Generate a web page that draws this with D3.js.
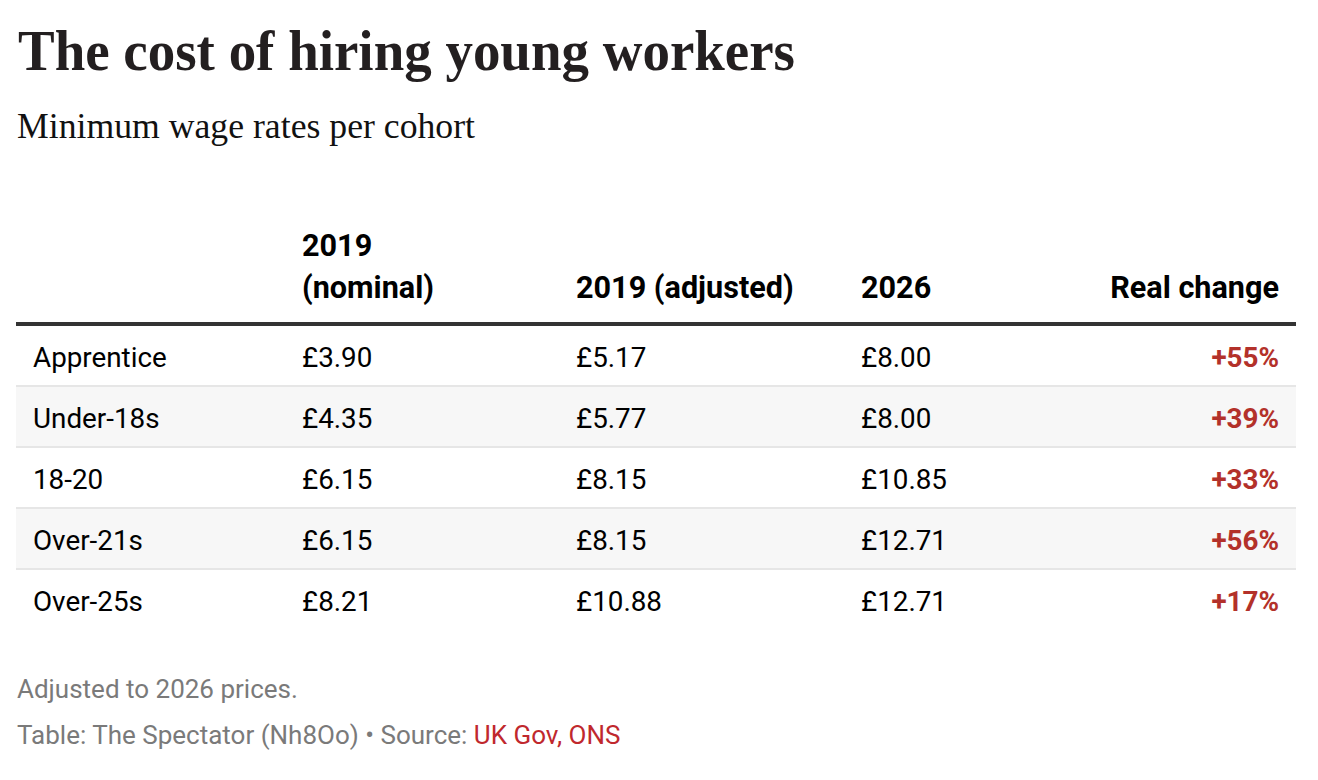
<!DOCTYPE html>
<html><head><meta charset="utf-8">
<script src="https://cdn.jsdelivr.net/npm/d3@7"></script>
<style>
html,body{margin:0;padding:0;background:#fff;}
svg{display:block;}
</style></head>
<body>
<svg id="chart" width="1318" height="780"></svg>
<script>
const title = "The cost of hiring young workers";
const subtitle = "Minimum wage rates per cohort";
const headers = [["", ""], ["2019", "(nominal)"], ["", "2019 (adjusted)"], ["", "2026"], ["", "Real change"]];
const cohorts = ["Apprentice", "Under-18s", "18-20", "Over-21s", "Over-25s"];
const nominal2019 = [3.90, 4.35, 6.15, 6.15, 8.21];
const adjusted2019 = [5.17, 5.77, 8.15, 8.15, 10.88];
const rate2026 = [8.00, 8.00, 10.85, 12.71, 12.71];
const realChange = [55, 39, 33, 56, 17];
const note = "Adjusted to 2026 prices.";
const credit = "Table: The Spectator (Nh8Oo) • Source: ";
const sourceText = "UK Gov, ONS";

const svg = d3.select("#chart");
const serif = "'Liberation Serif', 'DejaVu Serif', serif";
const sans = "Roboto, 'Noto Sans', sans-serif";
const left = 16, right = 1296;

svg.append("text").attr("x", 18).attr("y", 70)
  .attr("font-family", serif).attr("font-weight", 700).attr("font-size", 56)
  .attr("textLength", 777).attr("lengthAdjust", "spacingAndGlyphs")
  .attr("fill", "#231f20").text(title);
svg.append("text").attr("x", 17).attr("y", 138)
  .attr("font-family", serif).attr("font-size", 35)
  .attr("textLength", 458).attr("lengthAdjust", "spacingAndGlyphs")
  .attr("fill", "#111").text(subtitle);

const fmt = d3.format(".2f");
const rows = cohorts.map((c, i) => [c, "£" + fmt(nominal2019[i]), "£" + fmt(adjusted2019[i]), "£" + fmt(rate2026[i]), "+" + realChange[i] + "%"]);

const y = d3.scaleBand().domain(d3.range(rows.length)).range([326, 631]).paddingInner(0);
const colX = [33, 302, 576, 861, 1279];
const anchors = ["start", "start", "start", "start", "end"];

// header
const hg = svg.append("g");
headers.forEach((h, j) => {
  [0, 1].forEach(k => {
    if (!h[k]) return;
    hg.append("text").attr("x", colX[j]).attr("y", k === 0 ? 256 : 298)
      .attr("text-anchor", anchors[j]).attr("font-family", sans).attr("font-weight", 700)
      .attr("font-size", 30.6).attr("fill", "#000").text(h[k]);
  });
});
svg.append("rect").attr("x", left).attr("y", 322).attr("width", right - left).attr("height", 4).attr("fill", "#333");

const rg = svg.selectAll("g.row").data(rows).join("g").attr("class", "row")
  .attr("transform", (d, i) => `translate(0,${y(i)})`);
rg.append("rect").attr("x", left).attr("y", 0).attr("width", right - left).attr("height", y.bandwidth())
  .attr("fill", (d, i) => i % 2 === 1 ? "#f7f7f7" : "#fff");
rg.filter((d, i) => i < rows.length - 1).append("rect").attr("x", left).attr("y", y.bandwidth() - 2)
  .attr("width", right - left).attr("height", 2).attr("fill", "#e6e6e6");
rg.selectAll("text").data(d => d).join("text")
  .attr("x", (d, j) => colX[j]).attr("y", y.bandwidth() / 2 + 10)
  .attr("text-anchor", (d, j) => anchors[j])
  .attr("font-family", sans).attr("font-size", 27.8)
  .attr("font-weight", (d, j) => j === 4 ? 700 : 400)
  .attr("fill", (d, j) => j === 4 ? "#b3312a" : "#000")
  .text(d => d);

svg.append("text").attr("x", 17).attr("y", 698).attr("font-family", sans).attr("font-size", 26)
  .attr("fill", "#7a7a7a").text(note);
const ct = svg.append("text").attr("x", 17).attr("y", 744).attr("font-family", sans).attr("font-size", 26)
  .attr("fill", "#7a7a7a");
ct.append("tspan").text(credit);
ct.append("tspan").attr("fill", "#c0282d").text(sourceText);
</script>
</body></html>
